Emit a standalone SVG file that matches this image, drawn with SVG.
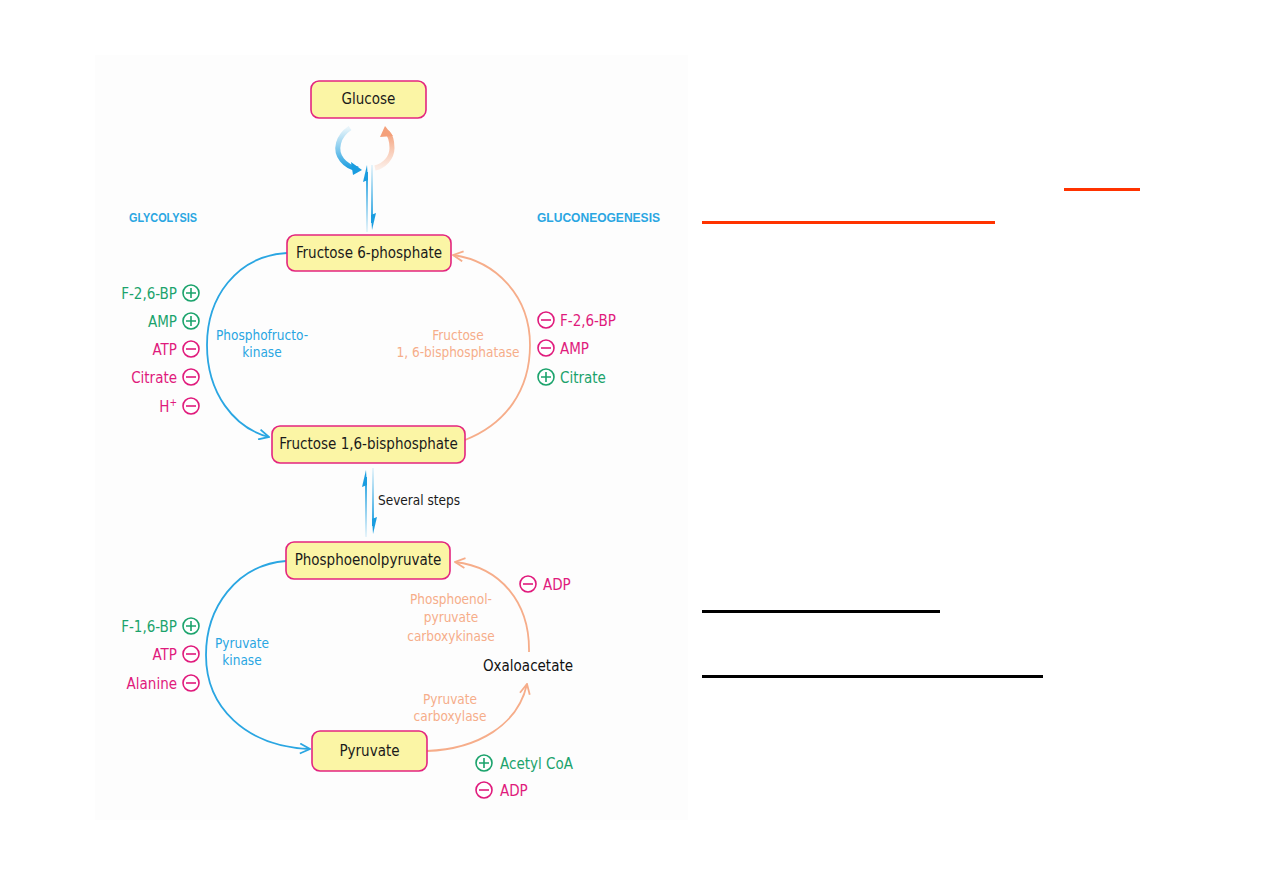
<svg xmlns="http://www.w3.org/2000/svg" width="1263" height="893" viewBox="0 0 1263 893">
<style>
text{font-family:"Liberation Sans Narrow","DejaVu Sans Condensed","Liberation Sans",sans-serif}
.box{fill:#fbf5a5;stroke:#e3257f;stroke-width:1.6}
.bt{font-size:15px;fill:#1a1a1a;text-anchor:middle}
.g{fill:#1ba36c;font-size:15px}
.m{fill:#e01a7c;font-size:15px}
.r{text-anchor:end}
.enzB{fill:#2aa6e2;font-size:13.5px;text-anchor:middle}
.enzP{fill:#f6ad8a;font-size:13.5px;text-anchor:middle}
.hdr{fill:#2aa6e2;font-size:12px;font-weight:bold;font-family:"Liberation Sans","DejaVu Sans",sans-serif}
.blue{fill:none;stroke:#2aa6e2;stroke-width:1.8}
.peach{fill:none;stroke:#f6ad8a;stroke-width:1.8}
.cg{fill:#fff;stroke:#1ba36c;stroke-width:1.6}
.cm{fill:#fff;stroke:#e01a7c;stroke-width:1.6}
.sg{stroke:#1ba36c;stroke-width:1.6}
.sm{stroke:#e01a7c;stroke-width:1.6}
</style>
<defs>
<marker id="ab" viewBox="0 0 12 12" refX="11" refY="6" markerWidth="12" markerHeight="12" markerUnits="userSpaceOnUse" orient="auto"><path d="M1,1 L11,6 L1,11" fill="none" stroke="#2aa6e2" stroke-width="1.8"/></marker>
<marker id="ap" viewBox="0 0 12 12" refX="11" refY="6" markerWidth="12" markerHeight="12" markerUnits="userSpaceOnUse" orient="auto"><path d="M1,1 L11,6 L1,11" fill="none" stroke="#f6ad8a" stroke-width="1.8"/></marker>
<linearGradient id="gUp" x1="0" y1="1" x2="0" y2="0"><stop offset="0" stop-color="#2aa6e2" stop-opacity="0.1"/><stop offset="1" stop-color="#1a9de0"/></linearGradient>
<linearGradient id="gDn" x1="0" y1="0" x2="0" y2="1"><stop offset="0" stop-color="#2aa6e2" stop-opacity="0.1"/><stop offset="1" stop-color="#1a9de0"/></linearGradient>
<linearGradient id="gCB" x1="0" y1="0" x2="0" y2="1"><stop offset="0" stop-color="#2aa6e2" stop-opacity="0.1"/><stop offset="1" stop-color="#1a9de0"/></linearGradient>
<linearGradient id="gCP" x1="0" y1="1" x2="0" y2="0"><stop offset="0" stop-color="#f6ad8a" stop-opacity="0.2"/><stop offset="1" stop-color="#f4a07a"/></linearGradient>
</defs>
<rect x="0" y="0" width="1263" height="893" fill="#ffffff"/>
<rect x="95" y="55" width="593" height="765" fill="#fdfdfd"/>

<g id="connectors">
<path class="blue" d="M287,253 C236,256 207,298 207,345 C207,393 234,428 269,437" marker-end="url(#ab)"/>
<path class="peach" d="M465,440 C506,424 530,390 530,345 C530,296 496,261 453,255" marker-end="url(#ap)"/>
<path class="blue" d="M286,561 C236,565 206,608 206,655 C206,707 245,746 310,749" marker-end="url(#ab)"/>
<path class="peach" d="M427,751 C478,749 518,725 527,684" marker-end="url(#ap)"/>
<path class="peach" d="M529,652 C530,602 500,567 455,562" marker-end="url(#ap)"/>
<!-- glucose <-> F6P -->
<rect x="366" y="172" width="2" height="60" fill="url(#gUp)"/>
<path d="M367,165 L363,182 L368,180 Z" fill="#1a9de0"/>
<rect x="371" y="165" width="2" height="58" fill="url(#gDn)"/>
<path d="M372,230 L376,213 L371,215 Z" fill="#1a9de0"/>
<path d="M350,128 C338,136 334,150 342,160 C346,165 352,168 358,169" stroke="url(#gCB)" stroke-width="5" fill="none"/>
<path d="M362,170 L351,162 L353,175 Z" fill="#1a9de0"/>
<path d="M375,168 C384,166 392,158 392,148 C392,140 390,135 387,132" stroke="url(#gCP)" stroke-width="5" fill="none"/>
<path d="M385,126 L380,137 L393,136 Z" fill="#f4a07a"/>
<!-- F16BP <-> PEP -->
<rect x="365" y="477" width="2" height="60" fill="url(#gUp)"/>
<path d="M366,470 L362,487 L367,485 Z" fill="#1a9de0"/>
<rect x="372" y="468" width="2" height="58" fill="url(#gDn)"/>
<path d="M373,534 L377,517 L372,519 Z" fill="#1a9de0"/>
</g>

<g id="glucose"><rect class="box" x="311" y="81" width="115" height="37" rx="8"/><text class="bt" x="368.5" y="104">Glucose</text></g>
<g id="f6p"><rect class="box" x="287" y="235" width="164" height="36" rx="8"/><text class="bt" x="369" y="258">Fructose 6-phosphate</text></g>
<g id="f16bp"><rect class="box" x="272" y="426" width="193" height="37" rx="8"/><text class="bt" x="368.5" y="449">Fructose 1,6-bisphosphate</text></g>
<g id="pep"><rect class="box" x="286" y="542" width="164" height="37" rx="8"/><text class="bt" x="368" y="565">Phosphoenolpyruvate</text></g>
<g id="pyruvate"><rect class="box" x="312" y="731" width="115" height="40" rx="8"/><text class="bt" x="369.5" y="756">Pyruvate</text></g>
<g id="oxaloacetate"><text x="528" y="671" font-size="15px" fill="#111" text-anchor="middle">Oxaloacetate</text></g>

<g id="labels">
<text class="hdr" x="129" y="222" textLength="68" lengthAdjust="spacingAndGlyphs">GLYCOLYSIS</text>
<text class="hdr" x="537" y="222" textLength="123" lengthAdjust="spacingAndGlyphs">GLUCONEOGENESIS</text>
<text x="378" y="505" font-size="13.5px" fill="#1a1a1a">Several steps</text>
<text class="enzB" x="262" y="340">Phosphofructo-</text>
<text class="enzB" x="262" y="357">kinase</text>
<text class="enzP" x="458" y="340">Fructose</text>
<text class="enzP" x="458" y="357">1, 6-bisphosphatase</text>
<text class="enzB" x="242" y="648">Pyruvate</text>
<text class="enzB" x="242" y="665">kinase</text>
<text class="enzP" x="451" y="604">Phosphoenol-</text>
<text class="enzP" x="451" y="622">pyruvate</text>
<text class="enzP" x="451" y="641">carboxykinase</text>
<text class="enzP" x="450" y="704">Pyruvate</text>
<text class="enzP" x="450" y="721">carboxylase</text>
</g>

<g id="regulators">
<text class="g r" x="177" y="299">F-2,6-BP</text><circle class="cg" cx="191" cy="293" r="8"/><path class="sg" d="M186,293h10M191,288v10"/>
<text class="g r" x="177" y="327">AMP</text><circle class="cg" cx="191" cy="321" r="8"/><path class="sg" d="M186,321h10M191,316v10"/>
<text class="m r" x="177" y="355">ATP</text><circle class="cm" cx="191" cy="349" r="8"/><path class="sm" d="M186,349h10"/>
<text class="m r" x="177" y="383">Citrate</text><circle class="cm" cx="191" cy="377" r="8"/><path class="sm" d="M186,377h10"/>
<text class="m r" x="177" y="412">H<tspan font-size="10px" dy="-6">+</tspan></text><circle class="cm" cx="191" cy="406" r="8"/><path class="sm" d="M186,406h10"/>

<circle class="cm" cx="546" cy="320" r="8"/><path class="sm" d="M541,320h10"/><text class="m" x="560" y="326">F-2,6-BP</text>
<circle class="cm" cx="546" cy="348" r="8"/><path class="sm" d="M541,348h10"/><text class="m" x="560" y="354">AMP</text>
<circle class="cg" cx="546" cy="377" r="8"/><path class="sg" d="M541,377h10M546,372v10"/><text class="g" x="560" y="383">Citrate</text>

<text class="g r" x="177" y="632">F-1,6-BP</text><circle class="cg" cx="191" cy="626" r="8"/><path class="sg" d="M186,626h10M191,621v10"/>
<text class="m r" x="177" y="660">ATP</text><circle class="cm" cx="191" cy="654" r="8"/><path class="sm" d="M186,654h10"/>
<text class="m r" x="177" y="689">Alanine</text><circle class="cm" cx="191" cy="683" r="8"/><path class="sm" d="M186,683h10"/>

<circle class="cm" cx="528" cy="584" r="8"/><path class="sm" d="M523,584h10"/><text class="m" x="543" y="590">ADP</text>
<circle class="cg" cx="484" cy="763" r="8"/><path class="sg" d="M479,763h10M484,758v10"/><text class="g" x="500" y="769">Acetyl CoA</text>
<circle class="cm" cx="484" cy="790" r="8"/><path class="sm" d="M479,790h10"/><text class="m" x="500" y="796">ADP</text>
</g>

<g id="rules">
<rect x="1064" y="188" width="76" height="3" fill="#ff3300"/>
<rect x="702" y="221" width="293" height="3" fill="#ff3300"/>
<rect x="702" y="610" width="238" height="3" fill="#000"/>
<rect x="702" y="675" width="341" height="3" fill="#000"/>
</g>
</svg>
